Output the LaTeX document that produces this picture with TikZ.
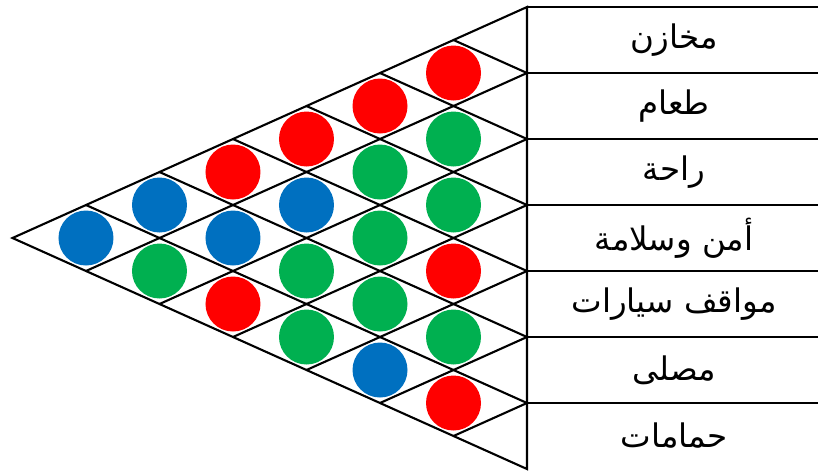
\documentclass[tikz,border=0pt]{standalone}
\usepackage{fontspec}
\newfontfamily\arabicfont[Script=Arabic]{DejaVu Sans}
\TeXXeTstate=1
\usepackage{xcolor}
\definecolor{hred}{HTML}{FF0000}
\definecolor{hgreen}{HTML}{00B050}
\definecolor{hblue}{HTML}{0070C0}

\begin{document}
\begin{tikzpicture}[
  line width=1.2pt,
  corr/.style={circle, fill=#1, minimum size=1.1cm, inner sep=0pt},
  lbl/.style={font=\arabicfont\fontsize{18.5}{22}\selectfont, anchor=center}
]
  \useasboundingbox (-10.54,0.14) rectangle (5.84,-9.26);
  \def\h{1.32}
  \def\w{1.47}
  % roof outline
  \coordinate (top) at (0,0);
  \coordinate (bot) at (0,{-7*\h});
  \coordinate (apex) at ({-7*\w},{-3.5*\h});
  \draw (top) -- (apex) -- (bot) -- cycle;
  % diagonal grid
  \foreach \k in {1,...,6}{
    \coordinate (b\k) at (0,{-\k*\h});
    \coordinate (t\k) at ({-\k*\w},{-\k*\h/2});
    \coordinate (u\k) at ({-(7-\k)*\w},{-(7+\k)*\h/2});
    \draw (t\k) -- (b\k) -- (u\k);
  }
  % table rows
  \foreach \k in {0,...,6}{
    \coordinate (l\k) at (0,{-\k*\h});
    \coordinate (r\k) at (5.82,{-\k*\h});
    \draw (l\k) -- (r\k);
  }
  % correlation dots
  \foreach \i/\j/\c in {1/2/hred, 2/3/hgreen, 3/4/hgreen, 4/5/hred, 5/6/hgreen, 6/7/hred,
                        1/3/hred, 2/4/hgreen, 3/5/hgreen, 4/6/hgreen, 5/7/hblue,
                        1/4/hred, 2/5/hblue, 3/6/hgreen, 4/7/hgreen,
                        1/5/hred, 2/6/hblue, 3/7/hred,
                        1/6/hblue, 2/7/hgreen,
                        1/7/hblue}
    \node[corr=\c] (p\i\j) at ({-(\j-\i)*\w},{-(\i+\j-1)*\h/2}) {};
  % labels
  \node[lbl] (n1) at (2.94,{-0.5*\h}) {\beginR مخازن\endR};
  \node[lbl] (n2) at (2.94,{-1.5*\h}) {\beginR طعام\endR};
  \node[lbl] (n3) at (2.94,{-2.5*\h}) {\beginR راحة\endR};
  \node[lbl] (n4) at (2.94,{-3.5*\h}) {\beginR أمن وسلامة\endR};
  \node[lbl] (n5) at (2.94,{-4.5*\h}) {\beginR مواقف سيارات\endR};
  \node[lbl] (n6) at (2.94,{-5.5*\h}) {\beginR مصلى\endR};
  \node[lbl] (n7) at (2.94,{-6.5*\h}) {\beginR حمامات\endR};
\end{tikzpicture}
\end{document}
